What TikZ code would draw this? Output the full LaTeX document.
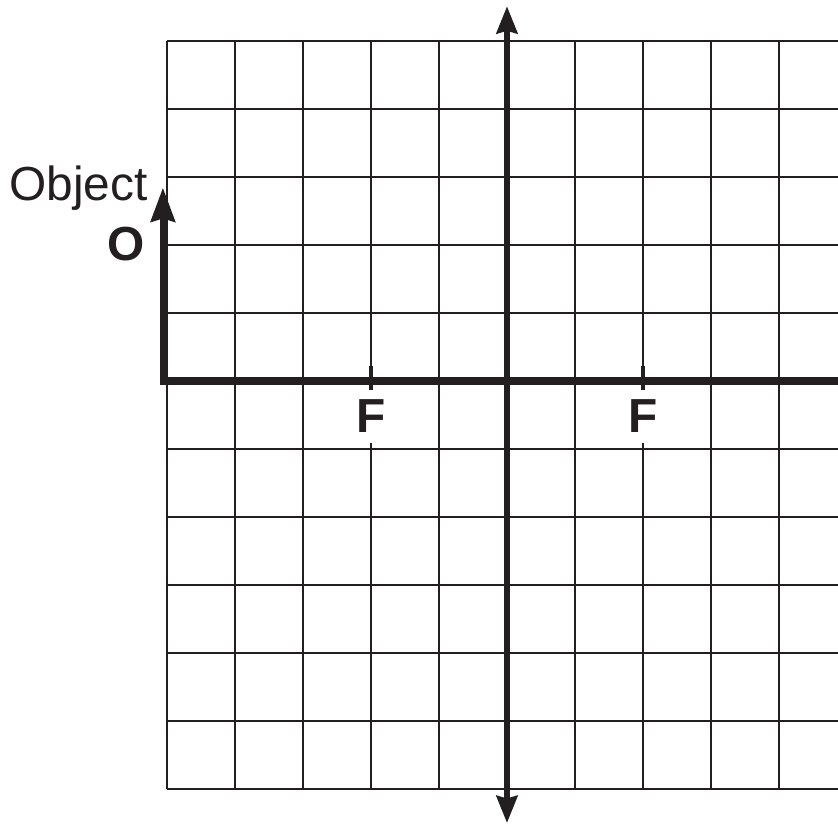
\documentclass[tikz,border=0pt]{standalone}
\usepackage{fontspec}
\setmainfont{Liberation Sans}
\setsansfont{Liberation Sans}
\usetikzlibrary{arrows.meta, positioning}
\definecolor{cink}{HTML}{231F20}
\tikzset{
  every picture/.style={font=\sffamily, line join=miter},
  gridline/.style={draw=cink, line width=1.1pt},
  lensaxis/.style={draw=cink, line width=2.2pt,
    {Stealth[length=0.4cm, width=0.31cm, inset=0.04cm]}-{Stealth[length=0.4cm, width=0.31cm, inset=0.04cm]}},
  optaxis/.style={draw=cink, line width=3pt},
  objarrow/.style={-{Stealth[length=0.5cm, width=0.36cm, inset=0.05cm]}, draw=cink, line width=2.2pt},
  focustick/.style={draw=cink, line width=1.8pt},
  tag/.style={text=cink, inner sep=0pt, font=\sffamily\fontsize{20}{24}\selectfont},
  focus/.style={fill=white, text=cink, inner sep=0pt, minimum width=0.5cm, minimum height=0.78cm,
                font=\sffamily\bfseries\fontsize{20}{24}\selectfont},
}

\begin{document}
\begin{tikzpicture}
  \useasboundingbox (-7.456, -6.515) rectangle (4.868, 5.603);
  % squared paper
  \foreach \x in {-5,...,4} \draw[gridline] (\x, -6) -- (\x, 5);
  \foreach \y in {-6,...,5} \draw[gridline] (-5, \y) -- (4.868, \y);
  % lens and principal axis
  \coordinate (lenstop) at (0, 5.51);
  \coordinate (lensbot) at (0, -6.5);
  \coordinate (objbase) at (-5.06, 0);
  \coordinate (objtip) at (-5.06, 2.84);
  \coordinate (axisend) at (4.868, 0);
  \draw[lensaxis] (lensbot) -- (lenstop);
  \draw[optaxis] ([xshift=-1.1pt]objbase) -- (axisend);
  \draw[objarrow] ([yshift=-1.5pt]objbase) -- (objtip);
  % focal points
  \foreach \x/\name in {-2/focusL, 2/focusR} {
    \draw[focustick] (\x, 0.22) -- (\x, -0.13);
    \node[focus] (\name) at (\x, -0.52) {F};
  }
  \node[tag, anchor=base east] (objname) at (-5.28, 2.66) {Object};
  \node[tag, anchor=base east, font=\sffamily\bfseries\fontsize{20}{24}\selectfont] (objtag) at (-5.32, 1.77) {O};
\end{tikzpicture}
\end{document}
